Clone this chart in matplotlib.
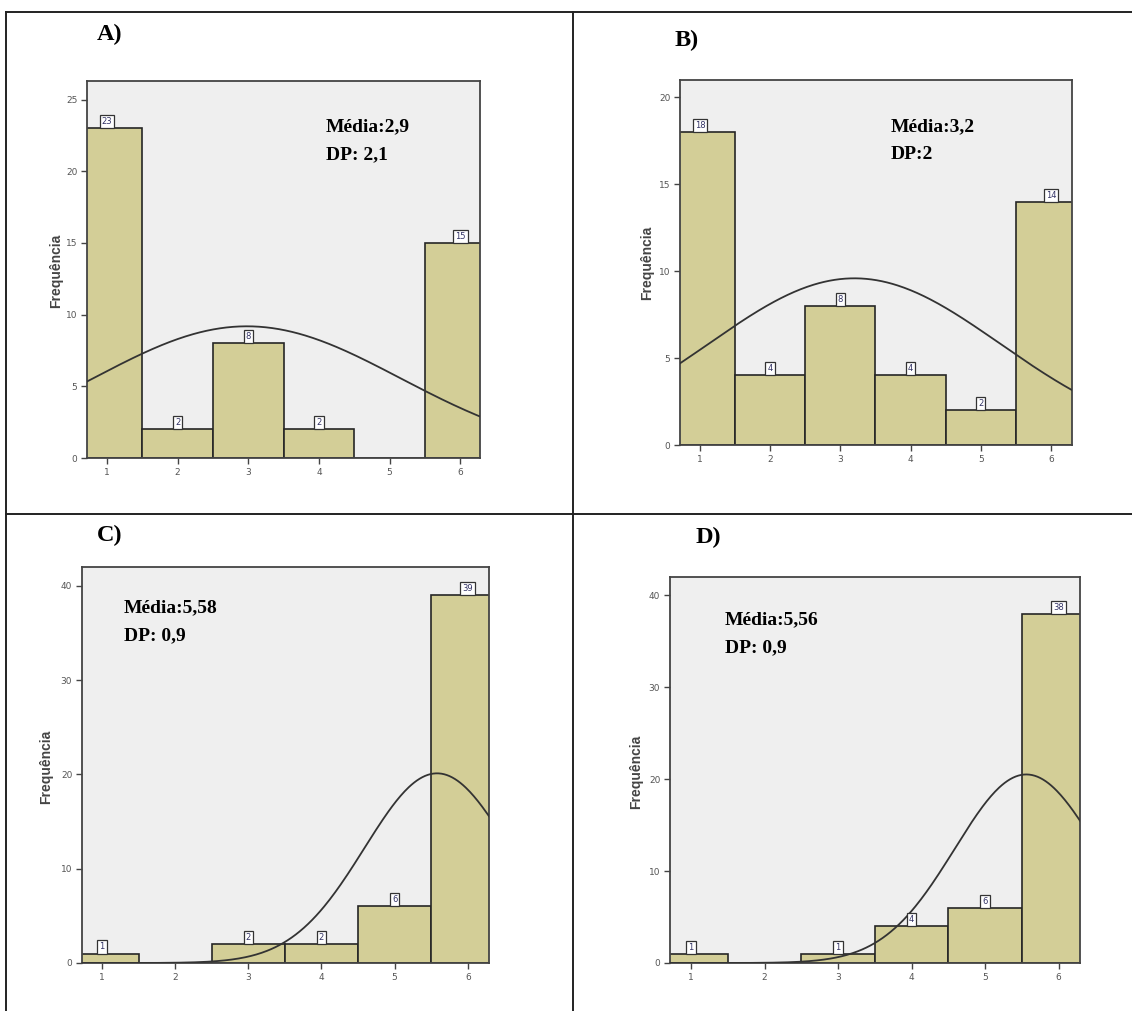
import numpy as np
import matplotlib
matplotlib.use("Agg")
import matplotlib.pyplot as plt
from matplotlib.lines import Line2D

W, H = 1132, 1011

# ---- data ----
categories = [1, 2, 3, 4, 5, 6]
counts_a = [23, 2, 8, 2, 0, 15]
counts_b = [18, 4, 8, 4, 2, 14]
counts_c = [1, 0, 2, 2, 6, 39]
counts_d = [1, 0, 1, 4, 6, 38]
panel_labels = ["A)", "B)", "C)", "D)"]
media_texts = ["Média:2,9", "Média:3,2", "Média:5,58", "Média:5,56"]
dp_texts = ["DP: 2,1", "DP:2", "DP: 0,9", "DP: 0,9"]
yticks_a = [0, 5, 10, 15, 20, 25]
yticks_b = [0, 5, 10, 15, 20]
yticks_cd = [0, 10, 20, 30, 40]

BAR = "#d3ce97"
BG = "#efefef"
EDGE = "#262626"

# layout in pixels: axes box (left, top, right, bottom), xlim, ylim,
# panel label pos, stats text pos, ylabel pos
panels = [
    dict(counts=counts_a, yticks=yticks_a, box=(87, 81, 480, 458), xlim=(0.717, 6.28), ylim=(0, 26.3),
         lab=(97, 24), stats=(326, 118), ylab=(56, 271)),
    dict(counts=counts_b, yticks=yticks_b, box=(680, 80, 1072, 445), xlim=(0.715, 6.30), ylim=(0, 21),
         lab=(675, 30), stats=(891, 118), ylab=(647, 263)),
    dict(counts=counts_c, yticks=yticks_cd, box=(82, 567, 489, 963), xlim=(0.727, 6.29), ylim=(0, 42),
         lab=(97, 525), stats=(124, 599), ylab=(46, 767)),
    dict(counts=counts_d, yticks=yticks_cd, box=(670, 577, 1080, 963), xlim=(0.715, 6.29), ylim=(0, 42),
         lab=(696, 527), stats=(725, 611), ylab=(636, 772)),
]

fig = plt.figure(figsize=(W / 100, H / 100), dpi=100)
fig.patch.set_facecolor("white")


def fx(x):
    return x / W


def fy(y):
    return 1 - y / H


for i, p in enumerate(panels):
    l, t, r, b = p["box"]
    ax = fig.add_axes([fx(l), fy(b), (r - l) / W, (b - t) / H])
    ax.set_facecolor(BG)
    cnt = np.array(p["counts"], dtype=float)
    x = np.array(categories, dtype=float)
    ax.bar(x, cnt, width=1.0, color=BAR, edgecolor=EDGE, linewidth=1.2, zorder=2)

    # value boxes above bars
    for xi, c in zip(x, cnt):
        if c > 0:
            ax.annotate(f"{int(c)}", (xi, c), xytext=(0, 1.5), textcoords="offset points",
                        ha="center", va="bottom", fontsize=6, color="#333366",
                        bbox=dict(boxstyle="square,pad=0.25", fc="white", ec="#333333", lw=0.9),
                        zorder=4)

    # normal curve from the counts
    n = cnt.sum()
    mean = (x * cnt).sum() / n
    sd = np.sqrt(((x - mean) ** 2 * cnt).sum() / (n - 1))
    xs = np.linspace(p["xlim"][0], p["xlim"][1], 300)
    ys = n / (sd * np.sqrt(2 * np.pi)) * np.exp(-0.5 * ((xs - mean) / sd) ** 2)
    ax.plot(xs, ys, color="#333333", linewidth=1.3, zorder=3)

    ax.set_xlim(*p["xlim"])
    ax.set_ylim(*p["ylim"])
    ax.set_xticks(categories)
    ax.set_yticks(p["yticks"])
    ax.tick_params(axis="both", direction="out", length=4, width=1, color="#444444",
                   labelsize=6.5, labelcolor="#555555", pad=3)
    for s in ax.spines.values():
        s.set_color("#444444")
        s.set_linewidth(1.3)

    fig.text(fx(p["ylab"][0]), fy(p["ylab"][1]), "Frequência", rotation=90, ha="center", va="center",
             fontsize=10, fontweight="bold", color="#444444", family="Liberation Sans")

    fig.text(fx(p["lab"][0]), fy(p["lab"][1]), panel_labels[i], ha="left", va="top",
             fontsize=17.5, fontweight="bold", family="Liberation Serif")
    sx, sy = p["stats"]
    fig.text(fx(sx), fy(sy), media_texts[i], ha="left", va="top",
             fontsize=14, fontweight="bold", family="Liberation Serif")
    fig.text(fx(sx), fy(sy + 28), dp_texts[i], ha="left", va="top",
             fontsize=14, fontweight="bold", family="Liberation Serif")

# table-like frame
frame = [((6, 12), (W, 12)), ((6, 12), (6, H)), ((573, 12), (573, H)), ((6, 514), (W, 514))]
for (x0, y0), (x1, y1) in frame:
    fig.add_artist(Line2D([fx(x0), fx(x1)], [fy(y0), fy(y1)], color="#222222", linewidth=1.4,
                          transform=fig.transFigure))

fig.savefig("out.png", dpi=100)
